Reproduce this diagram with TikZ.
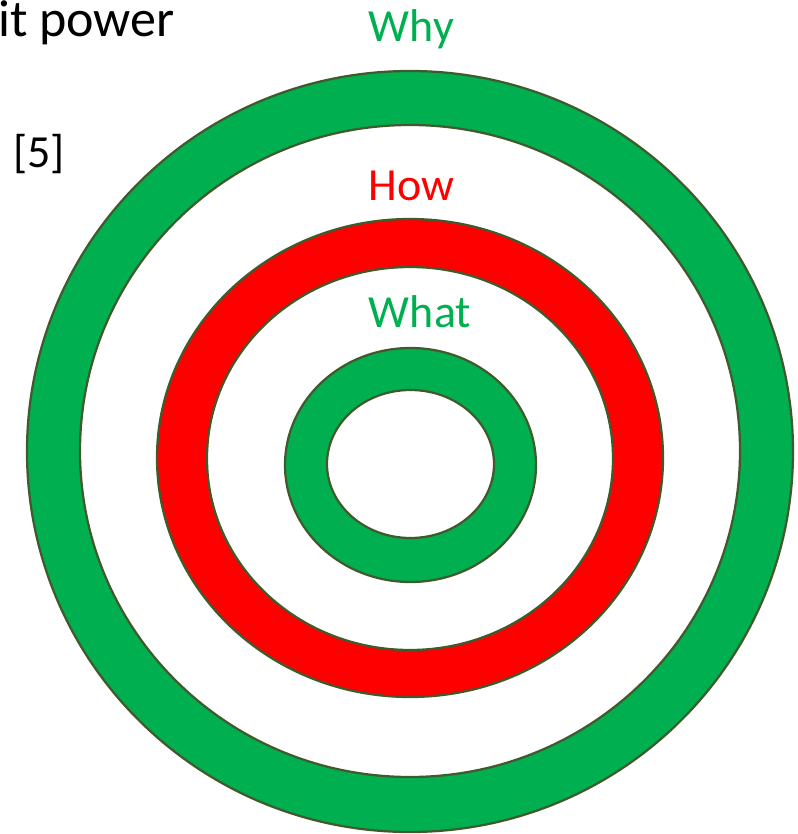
\documentclass[tikz,border=0pt]{standalone}
\usepackage{fontspec}
\setmainfont{Carlito}
\usepackage{xcolor}
\definecolor{ringgreen}{HTML}{00B050}
\definecolor{ringred}{HTML}{FF0000}
\definecolor{ringedge}{HTML}{3F5A2C}

\begin{document}
\begin{tikzpicture}[
    x=0.025cm, y=-0.025cm,
    ring/.style={draw=ringedge, line width=1.6pt, even odd rule},
    label/.style={font=\fontsize{32.7pt}{38pt}\selectfont, anchor=base}
]
    \useasboundingbox (0,0) rectangle (797,834);

    % Why ring
    \path[ring, fill=ringgreen] (410,451.5) ellipse [x radius=383, y radius=380.5]
        (410,451) ellipse [x radius=330, y radius=326];

    % How ring
    \path[ring, fill=ringred] (410,458) ellipse [x radius=253, y radius=239]
        (410,458.5) ellipse [x radius=203, y radius=191.5];

    % What ring
    \path[ring, fill=ringgreen] (410.5,465) ellipse [x radius=125.5, y radius=117]
        (410.5,464) ellipse [x radius=83.5, y radius=74];

    % Labels
    \node[label, text=ringgreen] (why) at (411.5,42) {Why};
    \node[label, text=ringred] (how) at (411.5,200) {How};
    \node[label, text=ringgreen] (what) at (420,327) {What};

    % Cut-off text on the left
    \node[label, anchor=base east, inner sep=0pt, font=\fontsize{37pt}{42pt}\selectfont] (power) at (175,37) {it power};
    \node[label, inner sep=0pt] (ref) at (39,167) {[5]};
\end{tikzpicture}
\end{document}
